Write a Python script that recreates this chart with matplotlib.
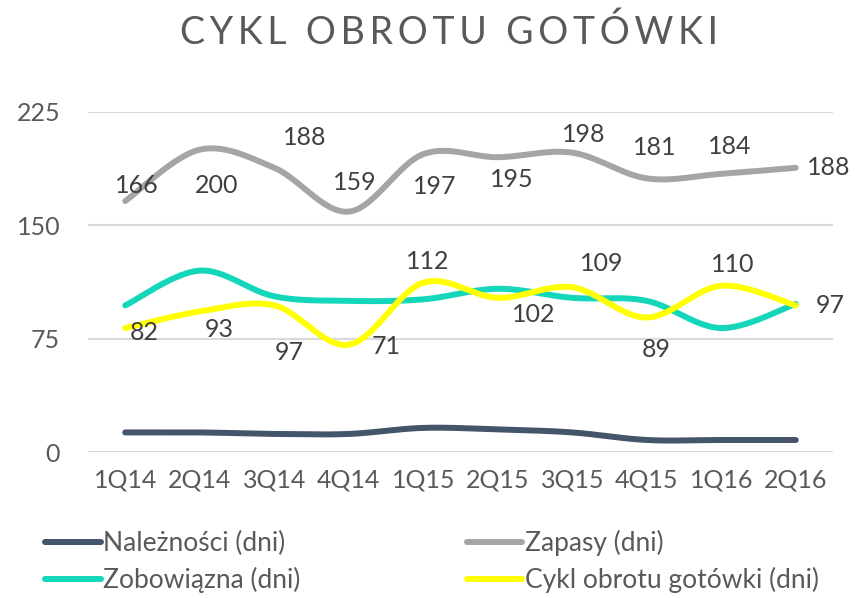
import numpy as np
import matplotlib
matplotlib.use("Agg")
import matplotlib.pyplot as plt

plt.rcParams['font.family'] = ['Lato', 'DejaVu Sans']

kwartaly = ['1Q14', '2Q14', '3Q14', '4Q14', '1Q15', '2Q15', '3Q15', '4Q15', '1Q16', '2Q16']
naleznosci = [13, 13, 12, 12, 16, 15, 13, 8, 8, 8]
zapasy = [166, 200, 188, 159, 197, 195, 198, 181, 184, 188]
zobowiazania = [97, 120, 103, 100, 101, 108, 102, 100, 82, 98]
cykl = [82, 93, 97, 71, 112, 102, 109, 89, 110, 97]

# przesuniecia etykiet (w punktach)
off_zap = [(8, 11), (12, -26), (22, 22), (4, 21), (8, -23), (10, -16), (8, 13), (6, 22), (6, 20), (24, 0)]
off_cyk = [(14, -3), (14, -13), (11, -34), (27, -1), (3, 15), (26, -12), (21, 17), (7, -23), (8, 15), (25, 0)]

kolor_tekst = '#595959'


def wygladz(y, n=30):
    # krzywa Beziera jak "wygladzona linia" w Excelu
    y = np.asarray(y, dtype=float)
    x = np.arange(len(y), dtype=float)
    p = np.column_stack([x, y])
    pts = [p[0]]
    for i in range(len(p) - 1):
        p0 = p[i - 1] if i > 0 else p[i]
        p3 = p[i + 2] if i + 2 < len(p) else p[i + 1]
        c1 = p[i] + (p[i + 1] - p0) / 6
        c2 = p[i + 1] - (p3 - p[i]) / 6
        t = np.linspace(0, 1, n)[1:, None]
        seg = ((1 - t) ** 3) * p[i] + 3 * ((1 - t) ** 2) * t * c1 + 3 * (1 - t) * t ** 2 * c2 + t ** 3 * p[i + 1]
        pts.extend(seg)
    pts = np.array(pts)
    return pts[:, 0], pts[:, 1]


fig = plt.figure(figsize=(8.55, 5.98), dpi=100)
ax = fig.add_axes([88 / 855, 0.244, 745 / 855, 0.569])

serie = [
    (naleznosci, '#44546A', 'Należności (dni)'),
    (zapasy, '#A5A5A5', 'Zapasy (dni)'),
    (zobowiazania, '#14D6BA', 'Zobowiązna (dni)'),
    (cykl, '#FFFF00', 'Cykl obrotu gotówki (dni)'),
]
linie = {}
for dane, kolor, nazwa in serie:
    xs, ys = wygladz(dane)
    linie[nazwa], = ax.plot(xs, ys, color=kolor, lw=4.3, solid_capstyle='round', label=nazwa)

x = np.arange(len(kwartaly))
for i, v in enumerate(zapasy):
    ax.annotate(str(v), (x[i], v), xytext=off_zap[i], textcoords='offset points',
                ha='center', va='center', fontsize=18, color='#404040')
for i, v in enumerate(cykl):
    ax.annotate(str(v), (x[i], v), xytext=off_cyk[i], textcoords='offset points',
                ha='center', va='center', fontsize=18, color='#404040')

ax.set_xlim(-0.5, len(kwartaly) - 0.5)
ax.set_ylim(0, 225)
ax.set_yticks([0, 75, 150, 225])
ax.set_xticks(x)
ax.set_xticklabels(kwartaly)
ax.grid(axis='y', color='#D9D9D9', lw=1.5)
ax.set_axisbelow(True)
for s in ax.spines.values():
    s.set_visible(False)
ax.tick_params(length=0, labelsize=18, colors=kolor_tekst, pad=12)
ax.tick_params(axis='y', pad=20)

fig.text(0.525, 0.945, 'C\u2009Y\u2009K\u2009L  O\u2009B\u2009R\u2009O\u2009T\u2009U  G\u2009O\u2009T\u2009Ó\u2009W\u2009K\u2009I',
         ha='center', va='center', fontsize=27, color=kolor_tekst)

uchwyty = [linie['Należności (dni)'], linie['Zobowiązna (dni)'], linie['Zapasy (dni)'], linie['Cykl obrotu gotówki (dni)']]
fig.legend(uchwyty, [h.get_label() for h in uchwyty], ncol=2, loc='center left',
           bbox_to_anchor=(0.025, 0.061), frameon=False, fontsize=19, handlelength=2.1,
           handletextpad=0.1, columnspacing=6.3, labelspacing=0.4, labelcolor=kolor_tekst)

fig.savefig('out.png', dpi=100)
